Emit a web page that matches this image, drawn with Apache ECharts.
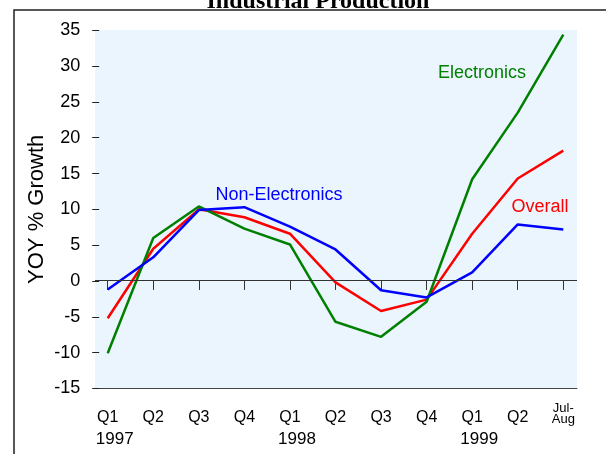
<!DOCTYPE html>
<html>
<head>
<meta charset="utf-8">
<style>
  html, body { margin: 0; padding: 0; background: #fff; }
  #main { width: 606px; height: 454px; }
</style>
<script src="https://cdn.jsdelivr.net/npm/echarts@6/dist/echarts.min.js"></script>
</head>
<body>
<div id="main"></div>
<script>
// quarters on the x axis, year shown under the first quarter of each year
var quarters = ['Q1', 'Q2', 'Q3', 'Q4', 'Q1', 'Q2', 'Q3', 'Q4', 'Q1', 'Q2', 'Jul-Aug'];
var years = ['1997', '', '', '', '1998', '', '', '', '1999', '', ''];

// YOY % growth
var overall = [-5.2, 4.5, 10.0, 8.9, 6.6, -0.2, -4.2, -2.6, 6.6, 14.3, 18.2];
var electronics = [-10.1, 6.0, 10.4, 7.3, 5.1, -5.7, -7.8, -2.9, 14.2, 23.5, 34.4];
var nonElectronics = [-1.2, 3.3, 9.9, 10.3, 7.6, 4.4, -1.3, -2.3, 1.2, 7.9, 7.2];

var yMin = -15, yMax = 35, yStep = 5;

var chart = echarts.init(document.getElementById('main'));

var fontSans = '"Liberation Sans", Arial, sans-serif';

var option = {
    animation: false,
    backgroundColor: '#ffffff',
    title: {
        text: 'Industrial Production',
        left: 313,
        textAlign: 'center',
        top: -15,
        textStyle: {
            fontFamily: '"Liberation Serif", "Times New Roman", serif',
            fontWeight: 'bold',
            fontSize: 24,
            color: '#000'
        }
    },
    graphic: [
        {
            type: 'rect',
            z: 100,
            silent: true,
            shape: {x: 14, y: 10, width: 800, height: 800},
            style: {fill: 'none', stroke: '#222', lineWidth: 1.5}
        },
        {
            type: 'text', z: 100, silent: true,
            style: {text: 'Electronics', x: 482, y: 73, textAlign: 'center', textVerticalAlign: 'middle',
                fill: '#008000', font: '18px ' + fontSans}
        },
        {
            type: 'text', z: 100, silent: true,
            style: {text: 'Non-Electronics', x: 279, y: 195, textAlign: 'center', textVerticalAlign: 'middle',
                fill: '#0000ff', font: '18px ' + fontSans}
        },
        {
            type: 'text', z: 100, silent: true,
            style: {text: 'Overall', x: 540, y: 207, textAlign: 'center', textVerticalAlign: 'middle',
                fill: '#ff0000', font: '18px ' + fontSans}
        }
    ],
    grid: [
        // panel background + bottom axis line
        {left: 95, right: 29, top: 30, bottom: 66, show: true, backgroundColor: '#ebf5fe', borderWidth: 0},
        // data area
        {left: 107.7, right: 42.7, top: 30.3, bottom: 65.6}
    ],
    xAxis: [
        {
            gridIndex: 0,
            type: 'value',
            min: 0,
            max: 1,
            axisLine: {show: true, onZero: false, lineStyle: {color: '#444', width: 1}},
            axisTick: {show: false},
            axisLabel: {show: false},
            splitLine: {show: false}
        },
        {
            gridIndex: 1,
            type: 'category',
            data: quarters,
            boundaryGap: false,
            axisLine: {show: false},
            axisTick: {show: true, interval: 0, length: 9, lineStyle: {color: '#333', width: 1}},
            axisLabel: {
                interval: 0,
                margin: 37,
                verticalAlign: 'bottom',
                formatter: function (v) {
                    if (v === 'Jul-Aug') return '{s|Jul-}\n{s|Aug}';
                    return '{q|' + v + '}';
                },
                rich: {
                    q: {fontSize: 16, fontFamily: fontSans, color: '#000'},
                    s: {fontSize: 13, lineHeight: 11, fontFamily: fontSans, color: '#000'}
                }
            },
            splitLine: {show: false}
        },
        {
            gridIndex: 1,
            type: 'category',
            data: quarters,
            boundaryGap: false,
            position: 'bottom',
            axisLine: {show: false},
            axisTick: {show: false},
            axisLabel: {
                interval: 0,
                margin: 42,
                formatter: function (v, i) {
                    return years[i] ? '{y|' + years[i] + '}' : '';
                },
                rich: {
                    y: {fontSize: 17, fontFamily: fontSans, color: '#000', padding: [0, 0, 0, 14]}
                }
            },
            splitLine: {show: false}
        }
    ],
    yAxis: [
        {
            gridIndex: 0,
            type: 'value',
            min: yMin,
            max: yMax,
            show: false,
            splitLine: {show: false}
        },
        {
            gridIndex: 1,
            type: 'value',
            min: yMin,
            max: yMax,
            interval: yStep,
            offset: 8.5,
            name: 'YOY % Growth',
            nameLocation: 'middle',
            nameGap: 51,
            nameMoveOverlap: false,
            nameTextStyle: {fontSize: 22, fontFamily: fontSans, color: '#000'},
            axisLine: {show: false},
            axisTick: {show: true, length: 7, lineStyle: {color: '#222', width: 1}},
            axisLabel: {fontSize: 18, fontFamily: fontSans, color: '#000', margin: 19},
            splitLine: {show: false}
        }
    ],
    series: [
        {
            name: 'zero',
            type: 'line',
            xAxisIndex: 0,
            yAxisIndex: 0,
            data: [],
            markLine: {
                silent: true,
                symbol: 'none',
                label: {show: false},
                lineStyle: {color: '#333', width: 1, type: 'solid'},
                data: [{yAxis: 0}]
            }
        },
        {
            name: 'Overall',
            type: 'line',
            xAxisIndex: 1,
            yAxisIndex: 1,
            data: overall,
            showSymbol: false,
            symbol: 'none',
            lineStyle: {color: '#ff0000', width: 2.5}
        },
        {
            name: 'Electronics',
            type: 'line',
            xAxisIndex: 1,
            yAxisIndex: 1,
            data: electronics,
            showSymbol: false,
            symbol: 'none',
            lineStyle: {color: '#008000', width: 2.5}
        },
        {
            name: 'Non-Electronics',
            type: 'line',
            xAxisIndex: 1,
            yAxisIndex: 1,
            data: nonElectronics,
            showSymbol: false,
            symbol: 'none',
            lineStyle: {color: '#0000ff', width: 2.5}
        }
    ]
};

chart.setOption(option);
</script>
</body>
</html>
